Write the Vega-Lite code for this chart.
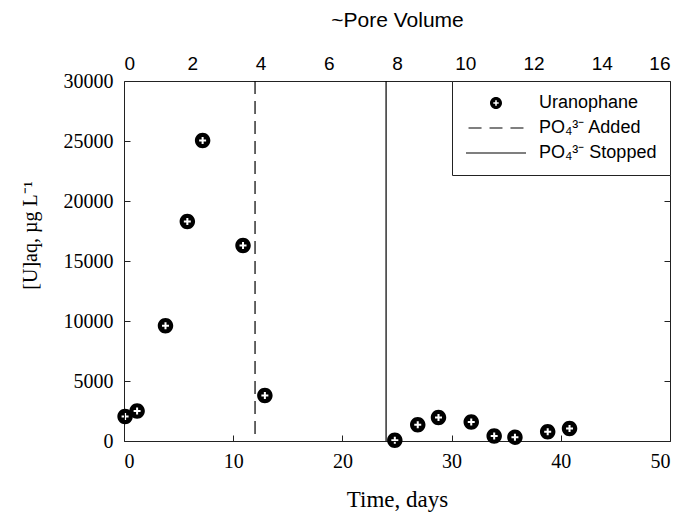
{
  "$schema": "https://vega.github.io/schema/vega-lite/v6.json",
  "width": 546,
  "height": 360,
  "autosize": {"type": "none"},
  "padding": {"left": 124, "top": 81, "right": 13, "bottom": 71},
  "background": "white",
  "config": {
    "view": {"stroke": "#222", "strokeWidth": 1},
    "axis": {
      "grid": false,
      "domain": false,
      "tickColor": "#222",
      "tickSize": -6,
      "labelColor": "black",
      "titleColor": "black",
      "labelFont": "Liberation Serif",
      "titleFont": "Liberation Serif",
      "labelFontSize": 20,
      "titleFontSize": 22,
      "titleFontWeight": "normal"
    },
    "legend": {
      "strokeColor": "#222",
      "fillColor": "white",
      "padding": 13,
      "labelFont": "Liberation Sans",
      "labelFontSize": 18,
      "labelColor": "black",
      "symbolSize": 144,
      "symbolOffset": 22,
      "labelOffset": 34,
      "rowPadding": 7
    }
  },
  "datasets": {
    "obs": [
      {"day": 0.1, "u": 2050, "series": "Uranophane"},
      {"day": 1.2, "u": 2500, "series": "Uranophane"},
      {"day": 3.8, "u": 9600, "series": "Uranophane"},
      {"day": 5.8, "u": 18300, "series": "Uranophane"},
      {"day": 7.2, "u": 25050, "series": "Uranophane"},
      {"day": 10.9, "u": 16300, "series": "Uranophane"},
      {"day": 12.9, "u": 3800, "series": "Uranophane"},
      {"day": 24.8, "u": 60, "series": "Uranophane"},
      {"day": 26.9, "u": 1350, "series": "Uranophane"},
      {"day": 28.8, "u": 1950, "series": "Uranophane"},
      {"day": 31.8, "u": 1580, "series": "Uranophane"},
      {"day": 33.9, "u": 420, "series": "Uranophane"},
      {"day": 35.8, "u": 320, "series": "Uranophane"},
      {"day": 38.8, "u": 780, "series": "Uranophane"},
      {"day": 40.8, "u": 1050, "series": "Uranophane"}
    ],
    "events": [
      {"day": 12, "series": "PO₄³⁻ Added"},
      {"day": 24, "series": "PO₄³⁻ Stopped"}
    ],
    "pv": [{"pv": 0}, {"pv": 16}]
  },
  "layer": [
    {
      "data": {"name": "events"},
      "mark": {"type": "rule", "color": "black", "strokeWidth": 1.2},
      "encoding": {
        "x": {
          "field": "day",
          "type": "quantitative",
          "scale": {"domain": [0, 50], "nice": false},
          "axis": {
            "orient": "bottom",
            "title": "Time, days",
            "titleFontSize": 23,
            "values": [0, 10, 20, 30, 40, 50],
            "labelPadding": 16,
            "titlePadding": 17
          }
        },
        "strokeDash": {
          "field": "series",
          "type": "nominal",
          "scale": {
            "domain": ["PO₄³⁻ Added", "PO₄³⁻ Stopped"],
            "range": [[13, 7], [1, 0]]
          },
          "legend": null
        }
      }
    },
    {
      "data": {"name": "obs"},
      "mark": {
        "type": "point",
        "filled": true,
        "color": "black",
        "opacity": 1,
        "strokeWidth": 0,
        "size": 240
      },
      "encoding": {
        "x": {
          "field": "day",
          "type": "quantitative",
          "scale": {"domain": [0, 50], "nice": false},
          "axis": null
        },
        "y": {
          "field": "u",
          "type": "quantitative",
          "scale": {"domain": [0, 30000], "nice": false},
          "axis": {
            "orient": "left",
            "title": "[U]aq, µg L⁻¹",
            "titleFontSize": 20,
            "titleY": 154,
            "values": [0, 5000, 10000, 15000, 20000, 25000, 30000],
            "format": "d",
            "labelPadding": 17,
            "titlePadding": 23
          }
        },
        "shape": {
          "field": "series",
          "type": "nominal",
          "scale": {
            "domain": ["Uranophane", "PO₄³⁻ Added", "PO₄³⁻ Stopped"],
            "range": [
              "M1,0A1,1 0 1,1 -1,0A1,1 0 1,1 1,0Z M-0.13,-0.45L-0.13,-0.13L-0.45,-0.13L-0.45,0.13L-0.13,0.13L-0.13,0.45L0.13,0.45L0.13,0.13L0.45,0.13L0.45,-0.13L0.13,-0.13L0.13,-0.45Z",
              "M-4.58,-0.09L-2.41,-0.09L-2.41,0.09L-4.58,0.09Z M-1.08,-0.09L1.08,-0.09L1.08,0.09L-1.08,0.09Z M2.41,-0.09L4.58,-0.09L4.58,0.09L2.41,0.09Z",
              "M-5,-0.09L5,-0.09L5,0.09L-5,0.09Z"
            ]
          },
          "legend": {
            "title": null,
            "orient": "top-right",
            "offset": 0
          }
        }
      }
    },
    {
      "data": {"name": "pv"},
      "mark": {"type": "point", "opacity": 0},
      "encoding": {
        "x": {
          "field": "pv",
          "type": "quantitative",
          "scale": {"domain": [0, 16], "nice": false},
          "axis": {
            "orient": "top",
            "title": "~Pore Volume",
            "values": [0, 2, 4, 6, 8, 10, 12, 14, 16],
            "ticks": false,
            "labelFont": "Liberation Sans",
            "titleFont": "Liberation Sans",
            "labelFontSize": 19,
            "titleFontSize": 21,
            "labelPadding": 8,
            "titlePadding": 24
          }
        },
        "y": {
          "datum": 0,
          "type": "quantitative",
          "scale": {"domain": [0, 30000], "nice": false},
          "axis": {
            "orient": "right",
            "title": null,
            "labels": false,
            "values": [0, 5000, 10000, 15000, 20000, 25000, 30000]
          }
        }
      }
    }
  ],
  "resolve": {
    "scale": {"x": "independent"},
    "axis": {"x": "independent", "y": "independent"}
  }
}
